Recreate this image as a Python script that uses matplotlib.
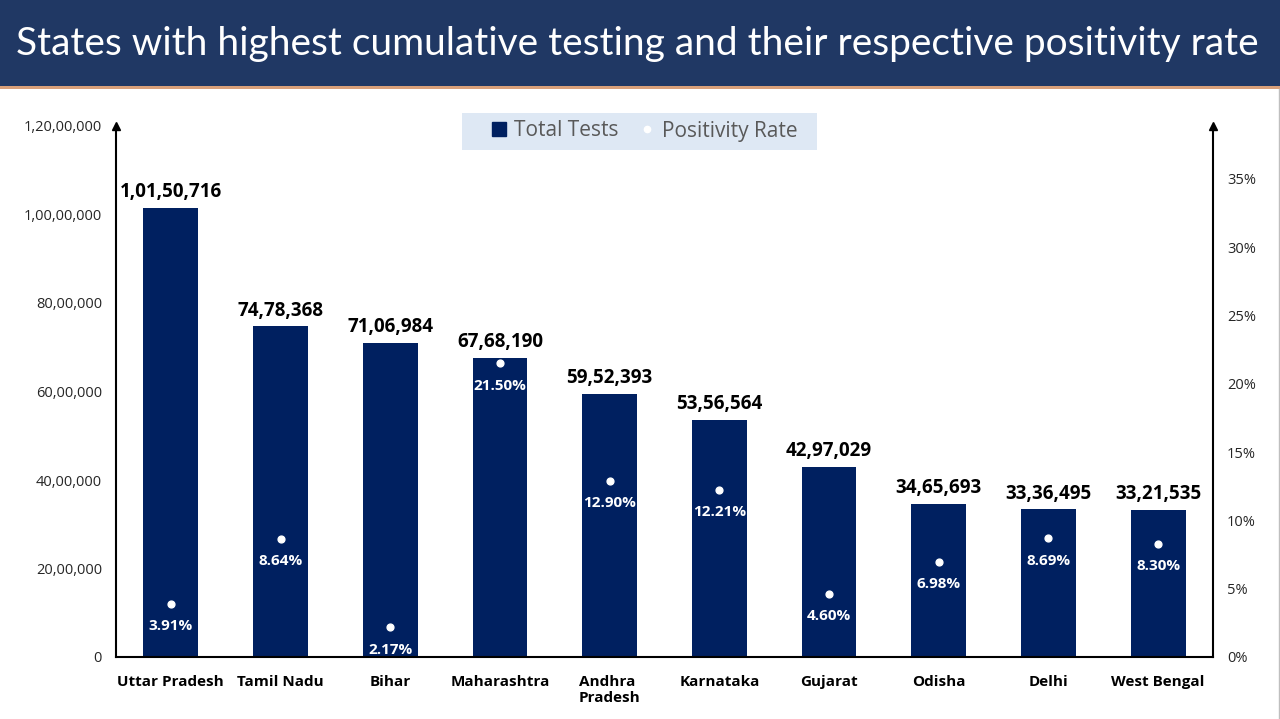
import matplotlib.pyplot as plt
from matplotlib.patches import Rectangle
from matplotlib.lines import Line2D

states = ['Uttar Pradesh', 'Tamil Nadu', 'Bihar', 'Maharashtra', 'Andhra\nPradesh',
          'Karnataka', 'Gujarat', 'Odisha', 'Delhi', 'West Bengal']
total_tests = [10150716, 7478368, 7106984, 6768190, 5952393,
               5356564, 4297029, 3465693, 3336495, 3321535]
positivity = [3.91, 8.64, 2.17, 21.50, 12.90, 12.21, 4.60, 6.98, 8.69, 8.30]
left_ticks = [0, 2000000, 4000000, 6000000, 8000000, 10000000, 12000000]
right_ticks = [0, 5, 10, 15, 20, 25, 30, 35]

NAVY = '#002060'
HEADER = '#203864'
FONT = 'Open Sans'


def indian(n):
    # format en système indien : 1,01,50,716
    s = str(int(n))
    if len(s) <= 3:
        return s
    last3 = s[-3:]
    rest = s[:-3]
    parts = []
    while len(rest) > 2:
        parts.insert(0, rest[-2:])
        rest = rest[:-2]
    if rest:
        parts.insert(0, rest)
    return ','.join(parts) + ',' + last3


fig = plt.figure(figsize=(12.8, 7.19), dpi=100)

# Bandeau du titre
fig.patches.append(Rectangle((0, 1 - 86 / 719), 1, 86 / 719, transform=fig.transFigure,
                             facecolor=HEADER, edgecolor='none', zorder=0))
fig.patches.append(Rectangle((0, 1 - 89 / 719), 1, 3 / 719, transform=fig.transFigure,
                             facecolor='#D9A07A', edgecolor='none', zorder=0))
fig.text(637 / 1280, 1 - 44 / 719, 'States with highest cumulative testing and their respective positivity rate',
         color='white', fontsize=28, family='Lato', ha='center', va='center')

ax = fig.add_axes([116 / 1280, 1 - 657 / 719, 1097 / 1280, 531 / 719])
x = list(range(len(states)))
ax.bar(x, total_tests, width=0.5, color=NAVY, zorder=2)
ax.set_xlim(-0.5, len(states) - 0.5)
ax.set_ylim(0, 12000000)
ax.set_yticks(left_ticks)
ax.set_yticklabels([indian(v) for v in left_ticks], fontsize=10.5, color='#262626', family=FONT)
ax.set_xticks(x)
ax.set_xticklabels(states, fontsize=11, fontweight='bold', family=FONT, color='black',
                   multialignment='left')
ax.tick_params(axis='y', length=0, pad=10)
ax.tick_params(axis='x', length=0, pad=13)
for side in ['top', 'right']:
    ax.spines[side].set_visible(False)
ax.spines['left'].set_linewidth(1.5)
ax.spines['bottom'].set_linewidth(1.5)

for xi, v in zip(x, total_tests):
    ax.annotate(indian(v), (xi, v), xytext=(0, 4), textcoords='offset points',
                ha='center', va='bottom', fontsize=13.5, fontweight='bold', family=FONT)

ax2 = ax.twinx()
ax2.set_ylim(0, 38.87)
ax2.set_yticks(right_ticks)
ax2.set_yticklabels([f'{t}%' for t in right_ticks], fontsize=10.5, color='#262626', family=FONT)
ax2.tick_params(axis='y', length=0, pad=10)
for side in ['top', 'left', 'bottom']:
    ax2.spines[side].set_visible(False)
ax2.spines['right'].set_linewidth(1.5)
ax2.scatter(x, positivity, s=24, color='white', zorder=3)
for xi, p in zip(x, positivity):
    ax2.annotate(f'{p:.2f}%', (xi, p), xytext=(0, -16), textcoords='offset points',
                 ha='center', va='center', fontsize=11, fontweight='bold', color='white',
                 family=FONT)

# Flèches en haut des axes
ax.plot(0, 1, marker='^', color='black', markersize=6, transform=ax.transAxes, clip_on=False)
ax.plot(1, 1, marker='^', color='black', markersize=6, transform=ax.transAxes, clip_on=False)

# Légende : fond dessiné à part
fig.patches.append(Rectangle((462 / 1280, 1 - 150 / 719), 355 / 1280, 37 / 719,
                             transform=fig.transFigure, facecolor='#DEE8F4',
                             edgecolor='none', zorder=1))
handles = [Line2D([], [], marker='s', color=NAVY, linestyle='none', markersize=9.5),
           Line2D([], [], marker='o', color='white', linestyle='none', markersize=4.5)]
leg = fig.legend(handles, ['Total Tests', 'Positivity Rate'], loc='center',
                 bbox_to_anchor=(643 / 1280, 1 - 131 / 719), ncol=2, frameon=False,
                 prop={'family': FONT, 'size': 15}, labelcolor='#595959',
                 handletextpad=0.2, columnspacing=0.9, handlelength=1.0)

# Bordure droite de la diapo
fig.add_artist(Line2D([1279 / 1280, 1279 / 1280], [0, 1 - 89 / 719], color='#BFBFBF', linewidth=1))

fig.savefig('out.png', dpi=100)
